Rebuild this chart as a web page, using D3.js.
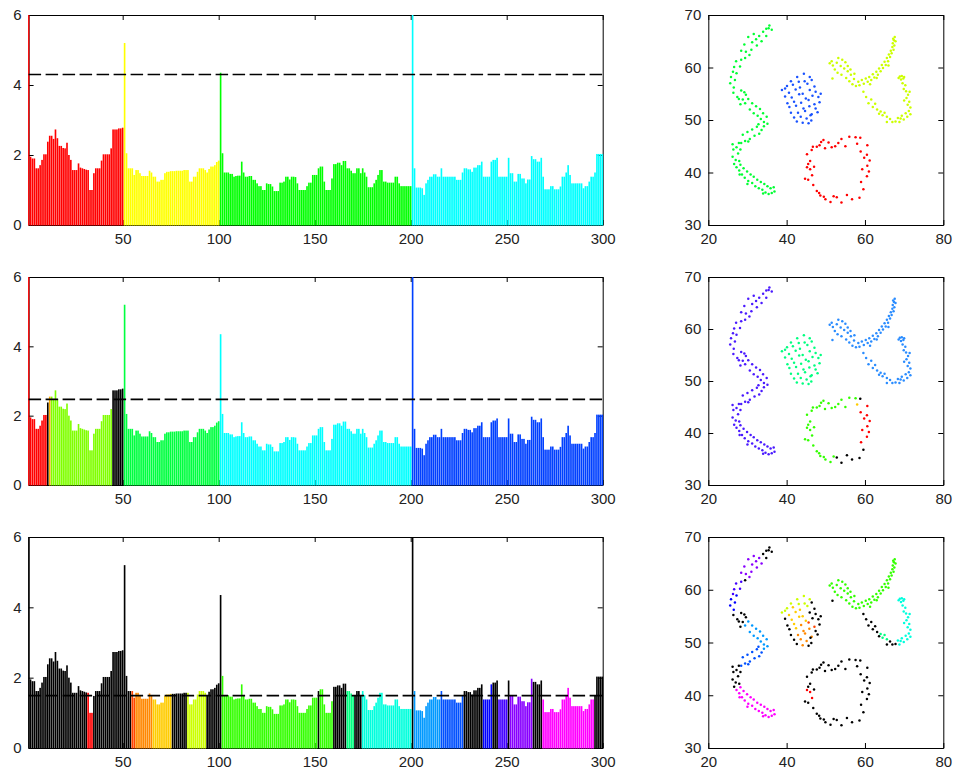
<!DOCTYPE html>
<html>
<head>
<meta charset="utf-8">
<script src="https://cdn.jsdelivr.net/npm/d3@7"></script>
<style>
body { margin: 0; background: #fff; }
text { font-family: "Liberation Sans", Arial, sans-serif; font-size: 15px; fill: #222; }
</style>
</head>
<body>
<div id="chart"></div>
<script>
// bar heights for samples 1..300 (same in all three bar charts)
var values = [
  6.0,1.95,1.9,1.9,1.62,1.62,1.71,1.86,2.02,2.02,
  2.38,2.55,2.55,2.46,2.73,2.48,2.26,2.26,2.2,2.19,
  2.35,2.0,1.86,1.57,1.57,1.57,1.76,1.64,1.62,1.6,
  1.58,1.57,1.0,1.0,1.48,1.62,1.62,1.62,1.84,2.02,
  2.02,2.02,2.02,2.19,2.73,2.73,2.73,2.76,2.76,2.78,
  5.2,2.05,1.62,1.62,1.62,1.43,1.57,1.57,1.48,1.4,
  1.4,1.4,1.4,1.55,1.5,1.38,1.38,1.24,1.24,1.29,
  1.29,1.48,1.52,1.52,1.54,1.54,1.54,1.55,1.55,1.55,
  1.55,1.57,1.57,1.57,1.24,1.24,1.38,1.38,1.52,1.62,
  1.62,1.62,1.57,1.5,1.6,1.67,1.67,1.71,1.8,1.84,
  4.35,2.05,1.5,1.5,1.5,1.46,1.46,1.38,1.4,1.41,
  1.41,1.81,1.5,1.38,1.38,1.4,1.4,1.29,1.29,1.19,
  1.11,1.11,1.0,1.0,1.19,1.17,1.17,1.1,0.97,0.97,
  0.97,1.21,1.21,1.24,1.38,1.38,1.3,1.38,1.38,1.37,
  1.19,1.0,1.0,1.0,1.0,1.11,1.21,1.21,1.43,1.43,
  1.43,1.62,1.67,1.67,1.24,1.0,1.0,1.0,1.33,1.74,
  1.74,1.78,1.78,1.71,1.83,1.83,1.62,1.62,1.55,1.48,
  1.48,1.62,1.62,1.48,1.62,1.5,1.38,1.08,1.08,1.08,
  1.19,1.29,1.43,1.57,1.57,1.24,1.24,1.21,1.21,1.21,
  1.21,1.38,1.38,1.19,1.11,1.11,1.11,1.11,1.11,1.11,
  6.0,1.62,1.07,1.07,1.07,1.05,0.86,1.19,1.29,1.38,
  1.38,1.45,1.45,1.38,1.38,1.62,1.38,1.38,1.38,1.38,
  1.38,1.38,1.38,1.29,1.29,1.29,1.5,1.62,1.62,1.59,
  1.59,1.52,1.64,1.64,1.71,1.71,1.81,1.38,1.38,1.38,
  1.38,1.81,1.86,1.86,1.92,1.38,1.38,1.38,1.38,1.38,
  1.92,1.48,1.48,1.24,1.24,1.46,1.46,1.33,1.33,1.19,
  1.3,1.3,1.97,1.88,1.88,1.81,1.81,1.92,1.38,1.02,
  1.02,1.02,1.11,1.11,1.02,1.02,1.02,1.1,1.38,1.38,
  1.5,1.71,1.43,1.19,1.19,1.19,1.19,1.19,1.19,1.05,
  1.11,1.11,1.24,1.38,1.38,1.5,2.03,2.03,2.03,2.03
];

// the 300 points, same order as the bars
var ringPts = [
  [59.0,38.2],[60.5,39.3],[61.0,40.2],[59.3,40.6],[60.6,41.3],[61.2,42.3],[59.8,42.8],[60.5,43.4],[58.9,44.0],[60.6,45.2],
  [58.8,46.6],[58.0,45.5],
  [57.6,46.7],[56.0,46.8],[55.0,45.0],[54.0,46.4],[53.2,45.6],[52.4,45.0],[51.5,44.8],[50.7,45.7],[49.8,44.6],[49.4,46.2],
  [48.8,45.8],[48.4,45.2],[47.7,44.9],[46.7,44.9],[46.4,44.3],[45.2,43.5],[46.0,42.2],[45.5,41.6],[47.0,41.1],[46.0,40.6],
  [45.2,41.0],[46.5,39.5],[45.5,38.6],[44.7,38.8],[46.8,37.6],[47.7,36.5],[48.3,36.1],[48.6,35.6],[49.5,35.4],[49.9,34.9],
  [51.2,34.4],[52.0,35.5],
  [52.8,35.3],[54.0,34.3],[55.4,35.7],[56.7,34.9],[58.6,35.2],[59.6,36.8]
];
var blobPts = [
  [46.4,57.6],[47.1,56.4],[47.4,55.4],[48.7,55.0],
  [45.6,53.8],[47.1,53.0],
  [43.7,53.3],[44.3,52.2],[45.8,52.6],[42.9,51.4],[44.7,51.7],[46.4,51.1],[43.6,50.6],[45.1,50.3],[44.1,49.5],
  [41.6,56.7],[43.4,56.2],[40.6,55.2],[42.3,55.8],[44.1,55.0],[41.3,54.3],[43.2,54.9],[44.9,54.1],[41.9,53.5],[42.4,52.7],
  [45.9,55.7],[46.6,54.6],[48.1,54.4],[48.4,53.4],[47.4,52.2],[47.9,51.5],[46.1,50.9],[46.3,49.9],
  [44.4,58.8],[42.7,58.2],[45.9,58.2],[41.1,57.4],[43.1,57.3],[44.6,57.4],[40.1,56.5],[45.3,56.9],[38.8,55.7],[39.6,56.0],
  [39.6,54.5],[40.2,53.2],[40.7,52.5],[41.1,51.4],[41.9,50.5],[42.6,49.7],[45.6,49.4]
];
var arcPts = [
  [51.7,57.9],
  [51.0,60.8],[51.8,60.4],[51.5,61.2],[52.3,59.6],[52.8,60.9],[53.2,61.8],[53.0,59.0],[53.8,60.3],[54.2,61.5],[54.0,58.6],
  [54.7,59.8],[55.0,61.0],[55.2,58.0],[55.6,59.3],[55.6,60.3],[56.0,57.4],[56.4,58.6],[56.3,59.6],[56.8,56.8],[57.2,57.8],
  [57.3,58.8],[57.7,56.5],[58.3,57.3],[58.6,56.6],
  [59.2,57.6],[59.7,56.9],[60.2,57.9],[60.7,57.3],[61.1,58.2],[61.6,57.6],[62.0,58.7],[62.4,58.1],[62.9,59.2],[63.3,58.6],
  [63.6,59.8],[64.0,59.3],[64.3,60.5],[64.6,59.9],[65.0,61.1],[65.3,60.5],[65.6,61.8],[65.9,61.2],[66.1,62.5],[66.4,62.0],
  [66.6,63.2],[66.8,62.7],[67.0,63.9],[67.3,63.4],[67.1,64.6],[67.5,64.2],
  [59.6,55.4],
  [67.4,65.2],[67.8,65.0],[67.6,65.8],[67.2,65.5],[66.0,60.4],[63.0,58.0],[61.3,56.8],
  [60.3,54.4],[60.9,53.2],[61.6,53.9],[62.0,52.5],[62.6,53.1],[63.1,52.0],[63.6,51.2],
  [64.0,51.6],[64.5,50.9],[65.0,51.4],[65.6,50.6],
  [65.6,49.6],[66.4,50.2],[67.0,49.6],[67.8,49.7],
  [68.4,50.4],[68.8,49.6],[69.4,50.8],[69.9,50.1],[70.4,51.3],[70.8,50.6],[71.2,51.7],[71.6,52.4],[70.9,52.9],[71.3,53.5],
  [70.6,54.2],[71.0,54.8],[70.5,55.5],[69.9,55.9],[70.3,56.6],[69.6,57.0],[69.2,57.7],[69.8,57.9],[68.9,58.3],[69.4,58.4],
  [70.0,58.2],[71.6,51.1],[70.0,53.7],[71.4,55.4],[69.1,50.3],[68.6,58.0]
];
var sPts = [
  [35.4,67.5],
  [29.4,53.2],[30.2,54.0],[30.6,52.0],[31.2,53.2],[31.6,51.3],[32.2,52.6],[32.6,50.8],[33.2,52.1],[33.4,50.2],[34.0,51.3],
  [34.2,49.6],[34.9,50.6],[35.1,49.3],[34.2,48.8],
  [33.6,48.1],[33.0,47.4],[32.4,48.7],[31.8,47.0],[31.2,48.2],[30.6,46.4],[30.0,47.7],[29.4,46.0],[28.8,47.2],[28.4,45.6],
  [32.8,49.2],[30.2,45.9],
  [27.8,45.6],[27.2,44.8],[26.4,44.4],[27.6,43.6],[26.2,43.0],[27.0,42.4],[26.6,41.6],[27.9,42.2],[28.2,44.4],[26.2,45.4],
  [25.8,58.2],[26.8,57.6],[25.6,57.0],[26.5,56.2],[27.2,58.9],
  [26.4,55.2],[27.4,54.4],[28.4,55.6],
  [26.6,60.1],[27.1,61.2],[28.1,60.2],[26.3,59.2],[28.4,61.5],
  [29.4,61.8],
  [28.4,63.2],[29.6,63.0],[30.5,62.4],[29.2,64.4],[31.0,63.4],[31.2,64.8],[32.2,65.4],[32.4,64.2],[33.0,66.0],[33.6,65.0],
  [30.2,65.8],[31.6,66.4],
  [34.0,66.8],[34.8,67.4],[35.6,68.0],[36.2,67.2],[34.8,66.0],
  [27.2,41.0],[27.9,40.4],[28.2,41.5],[28.6,39.6],[29.0,40.8],[29.3,39.0],[29.9,40.2],[30.2,38.4],[30.8,39.6],[31.2,38.0],
  [31.6,39.2],[32.0,37.4],[32.5,38.6],[32.9,37.0],[33.4,38.2],[33.8,36.7],[34.3,37.8],[34.6,36.2],[35.1,37.4],[35.4,35.9],
  [35.9,37.0],[36.2,36.1],[36.7,37.2],[36.9,36.4],[34.0,36.0],[30.0,37.8],[28.0,39.6],
  [28.8,53.9],[29.6,54.8],[28.2,53.0],[27.8,54.0],[29.2,55.3]
];

var barXTicks = [50, 100, 150, 200, 250, 300];
var barYTicks = [0, 2, 4, 6];
var dotXTicks = [20, 40, 60, 80];
var dotYTicks = [30, 40, 50, 60, 70];
var cutLevels = [4.3, 2.47, 1.49];

// colour runs: [last sample index, colour]
var k = "#000000";
var barRuns1 = [[50,"#ff0000"],[100,"#ffff00"],[200,"#00ff00"],[300,"#00ffff"]];
var dotRuns1 = [[50,"#ff0000"],[100,"#1a53ff"],[200,"#ccff00"],[300,"#00ff33"]];
var barRuns2 = [[10,"#ff0000"],[11,k],[12,"#ffaa00"],[44,"#80ff00"],[50,k],[100,"#00ff40"],[200,"#00ffff"],[300,"#0040ff"]];
var dotRuns2 = [[10,"#ff0000"],[11,k],[12,"#ffcc00"],[44,"#33ff00"],[50,k],[100,"#00ff80"],[200,"#2a8cff"],[300,"#4a1aff"]];
var runs3 = [[31,k],[34,"#ff0000"],[54,k],[56,"#ff4400"],[65,"#ff8800"],[75,"#ffcc00"],[83,k],[93,"#ccff00"],[101,k],
  [151,"#33ff00"],[152,k],[159,"#33ff00"],[166,k],[170,"#00ff80"],[174,k],[200,"#00ffdd"],[201,k],
  [215,"#0099ff"],[227,"#0050ff"],[237,k],[242,"#0000ff"],[245,k],[250,"#4400ff"],[251,k],[263,"#8800ff"],[268,k],
  [295,"#ff00ff"],[300,k]];

var barRuns = [barRuns1, barRuns2, runs3];
var dotRuns = [dotRuns1, dotRuns2, runs3];

function colorAt(runs, i) {
  for (var j = 0; j < runs.length; j++) if (i <= runs[j][0]) return runs[j][1];
  return k;
}

var pts = ringPts.concat(blobPts, arcPts, sPts);
var bars = values.map(function(v, i) { return {i: i + 1, v: v}; });

var W = 958, H = 769;
var rows = [{top: 15, bottom: 225}, {top: 277, bottom: 485}, {top: 537, bottom: 748}];
var barLeft = 28.6, barRight = 602.7;
var dotLeft = 708.3, dotRight = 943.3;

var svg = d3.select("#chart").append("svg")
    .attr("width", W)
    .attr("height", H);

// box with inward ticks on all four sides, labels only bottom and left
function frame(g, x, y, xt, yt, left, right, top, bottom) {
  g.append("g").attr("transform", "translate(0," + bottom + ")")
    .call(d3.axisBottom(x).tickValues(xt).tickSize(-5).tickSizeOuter(0).tickPadding(8).tickFormat(d3.format("d")));
  g.append("g").attr("transform", "translate(0," + top + ")")
    .call(d3.axisTop(x).tickValues(xt).tickSize(-5).tickSizeOuter(0).tickFormat(""));
  g.append("g").attr("transform", "translate(" + left + ",0)")
    .call(d3.axisLeft(y).tickValues(yt).tickSize(-5).tickSizeOuter(0).tickPadding(7).tickFormat(d3.format("d")));
  g.append("g").attr("transform", "translate(" + right + ",0)")
    .call(d3.axisRight(y).tickValues(yt).tickSize(-5).tickSizeOuter(0).tickFormat(""));
}

rows.forEach(function(r, p) {
  // bar chart
  var x = d3.scaleLinear().domain([1, 300]).range([barLeft, barRight]);
  var y = d3.scaleLinear().domain([0, 6]).range([r.bottom, r.top]);
  var g = svg.append("g");
  frame(g, x, y, barXTicks, barYTicks, barLeft, barRight, r.top, r.bottom);

  g.append("clipPath").attr("id", "clip" + p)
    .append("rect")
    .attr("x", barLeft - 0.5).attr("y", r.top - 0.5)
    .attr("width", barRight - barLeft + 1).attr("height", r.bottom - r.top + 1.5);

  var bw = (x(2) - x(1)) * 0.85;
  g.append("g").attr("clip-path", "url(#clip" + p + ")")
    .selectAll("rect")
    .data(bars)
    .enter().append("rect")
    .attr("x", function(d) { return x(d.i) - bw / 2; })
    .attr("y", function(d) { return y(d.v); })
    .attr("width", bw)
    .attr("height", function(d) { return r.bottom - y(d.v) + 0.5; })
    .style("fill", function(d) { return colorAt(barRuns[p], d.i); });

  g.append("line")
    .attr("x1", barLeft).attr("x2", barRight)
    .attr("y1", y(cutLevels[p])).attr("y2", y(cutLevels[p]))
    .style("stroke", "#000")
    .style("stroke-width", 1.7)
    .style("stroke-dasharray", "12.5,4.5");

  // scatter
  var sx = d3.scaleLinear().domain([20, 80]).range([dotLeft, dotRight]);
  var sy = d3.scaleLinear().domain([30, 70]).range([r.bottom, r.top]);
  var s = svg.append("g");
  frame(s, sx, sy, dotXTicks, dotYTicks, dotLeft, dotRight, r.top, r.bottom);

  s.append("g").selectAll("circle")
    .data(pts)
    .enter().append("circle")
    .attr("cx", function(d) { return sx(d[0]); })
    .attr("cy", function(d) { return sy(d[1]); })
    .attr("r", 1.25)
    .style("fill", function(d, i) { return colorAt(dotRuns[p], i + 1); });
});
</script>
</body>
</html>
